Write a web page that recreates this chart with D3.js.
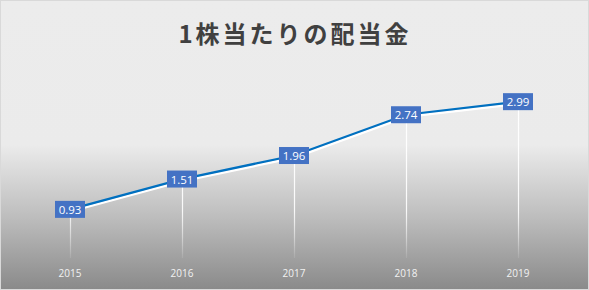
<html>
<head>
  <script src='https://d3js.org/d3.v7.min.js'></script>
  <style>
    body { margin: 0; }
  </style>
</head>
<body>
<script>

var years = ["2015", "2016", "2017", "2018", "2019"];
var dividends = [0.93, 1.51, 1.96, 2.74, 2.99];
var title = "1株当たりの配当金";

var width = 589,
    height = 290;

var svg = d3.select('body')
            .append('svg')
            .attr('width', width)
            .attr('height', height);

var x = d3.scalePoint().domain(years).range([70, 518]),
    y = d3.scaleLinear().domain([0, 3.5]).range([258, 75]);

var defs = svg.append('defs');
var grad = defs.append('linearGradient')
               .attr('id', 'bg')
               .attr('x1', 0).attr('y1', 0)
               .attr('x2', 0).attr('y2', 1);
grad.append('stop').attr('offset', '0%').attr('stop-color', '#ececec');
grad.append('stop').attr('offset', '50%').attr('stop-color', '#ebebeb');
grad.append('stop').attr('offset', '75%').attr('stop-color', '#bdbdbd');
grad.append('stop').attr('offset', '100%').attr('stop-color', '#8a8a8a');

// drop lines fade out toward the bottom
var dgrad = defs.append('linearGradient')
                .attr('id', 'drop')
                .attr('gradientUnits', 'userSpaceOnUse')
                .attr('x1', 0).attr('y1', y(3))
                .attr('x2', 0).attr('y2', y(0));
dgrad.append('stop').attr('offset', '0%').attr('stop-color', '#ffffff').attr('stop-opacity', 1);
dgrad.append('stop').attr('offset', '70%').attr('stop-color', '#ffffff').attr('stop-opacity', 0.9);
dgrad.append('stop').attr('offset', '100%').attr('stop-color', '#ffffff').attr('stop-opacity', 0.1);

// background + border
svg.append('rect')
   .attr('x', 0.5).attr('y', 0.5)
   .attr('width', width - 1).attr('height', height - 1)
   .attr('fill', 'url(#bg)')
   .attr('stroke', '#d9d9d9');

// title
svg.append('text')
   .attr('x', 295)
   .attr('y', 43)
   .attr('text-anchor', 'middle')
   .attr('font-family', '"Noto Sans CJK JP", sans-serif')
   .attr('font-weight', 'bold')
   .attr('font-size', 24)
   .attr('letter-spacing', 3)
   .attr('fill', '#404040')
   .text(title);

// drop lines
svg.selectAll('.drop')
   .data(dividends)
   .enter().append('line')
   .attr('class', 'drop')
   .attr('x1', function(d, i) { return x(years[i]) + 0.5; })
   .attr('x2', function(d, i) { return x(years[i]) + 0.5; })
   .attr('y1', function(d) { return y(d); })
   .attr('y2', y(0))
   .attr('stroke', 'url(#drop)')
   .attr('stroke-width', 1.2);

var line = d3.line()
             .x(function(d, i) { return x(years[i]); })
             .y(function(d) { return y(d); });

// white shadow below the line
svg.append('path')
   .datum(dividends)
   .attr('d', line)
   .attr('transform', 'translate(0.5,2)')
   .attr('fill', 'none')
   .attr('stroke', '#ffffff')
   .attr('stroke-width', 2.5);

svg.append('path')
   .datum(dividends)
   .attr('d', line)
   .attr('fill', 'none')
   .attr('stroke', '#0070c0')
   .attr('stroke-width', 2.25);

// data labels
var lab = svg.selectAll('.lab')
             .data(dividends)
             .enter().append('g')
             .attr('class', 'lab')
             .attr('transform', function(d, i) { return 'translate(' + x(years[i]) + ',' + y(d) + ')'; });

lab.append('rect')
   .attr('x', -15)
   .attr('y', -8.5)
   .attr('width', 30)
   .attr('height', 17)
   .attr('fill', '#4472c4');

lab.append('text')
   .attr('y', 4.5)
   .attr('text-anchor', 'middle')
   .attr('font-family', '"Open Sans", sans-serif')
   .attr('font-size', 11.5)
   .attr('fill', '#ffffff')
   .text(function(d) { return d.toFixed(2); });

// x axis labels
svg.selectAll('.year')
   .data(years)
   .enter().append('text')
   .attr('class', 'year')
   .attr('x', function(d) { return x(d); })
   .attr('y', 277)
   .attr('text-anchor', 'middle')
   .attr('font-family', '"Open Sans", sans-serif')
   .attr('font-size', 10)
   .attr('fill', '#f2f2f2')
   .text(function(d) { return d; });

</script>
</body>
</html>
